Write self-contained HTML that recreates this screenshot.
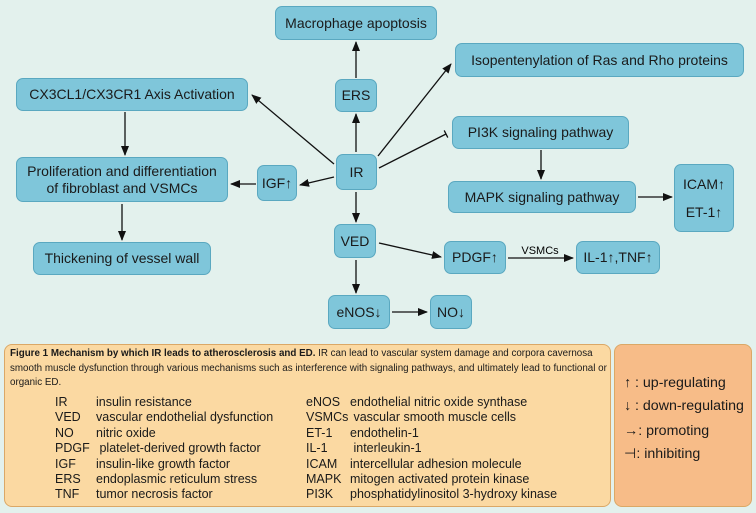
<!DOCTYPE html>
<html><head><meta charset="utf-8"><style>
*{margin:0;padding:0;box-sizing:border-box}
body{width:756px;height:513px;background:#e3f1ed;position:relative;font-family:"Liberation Sans",sans-serif;color:#1a1a1a;overflow:hidden}
.b{position:absolute;background:#7fc6da;border:1px solid #5aa8c0;border-radius:7px;display:flex;align-items:center;justify-content:center;text-align:center;font-size:14px;line-height:17px}
svg{position:absolute;left:0;top:0}
.cap{position:absolute;left:4px;top:344px;width:607px;height:163px;background:#fbd9a2;border:1px solid #dba866;border-radius:8px}
.leg{position:absolute;left:614px;top:344px;width:138px;height:163px;background:#f7bc88;border:1px solid #dba866;border-radius:8px}
.t{position:absolute;font-size:12.5px;white-space:nowrap}
.l{position:absolute;font-size:14.2px;white-space:nowrap;left:624px}
</style></head><body>
<div class="b" style="left:275px;top:6px;width:162px;height:34px">Macrophage apoptosis</div>
<div class="b" style="left:335px;top:79px;width:42px;height:33px">ERS</div>
<div class="b" style="left:455px;top:43px;width:289px;height:34px">Isopentenylation of Ras and Rho proteins</div>
<div class="b" style="left:16px;top:78px;width:232px;height:33px">CX3CL1/CX3CR1 Axis Activation</div>
<div class="b" style="left:452px;top:116px;width:177px;height:33px">PI3K signaling pathway</div>
<div class="b" style="left:336px;top:154px;width:41px;height:36px">IR</div>
<div class="b" style="left:16px;top:157px;width:212px;height:45px">Proliferation and differentiation<br>of fibroblast and VSMCs</div>
<div class="b" style="left:257px;top:165px;width:40px;height:36px">IGF↑</div>
<div class="b" style="left:448px;top:181px;width:188px;height:32px">MAPK signaling pathway</div>
<div class="b" style="left:674px;top:164px;width:60px;height:68px;line-height:28px">ICAM↑<br>ET-1↑</div>
<div class="b" style="left:334px;top:224px;width:42px;height:34px">VED</div>
<div class="b" style="left:33px;top:242px;width:178px;height:33px">Thickening of vessel wall</div>
<div class="b" style="left:444px;top:241px;width:62px;height:33px">PDGF↑</div>
<div class="b" style="left:576px;top:241px;width:84px;height:33px">IL-1↑,TNF↑</div>
<div class="b" style="left:328px;top:295px;width:62px;height:34px">eNOS↓</div>
<div class="b" style="left:430px;top:295px;width:42px;height:34px">NO↓</div>
<svg width="756" height="513">
<defs><marker id="a" markerWidth="10" markerHeight="8" refX="9" refY="4" orient="auto" markerUnits="userSpaceOnUse"><path d="M0,0L10,4L0,8z" fill="#111"/></marker></defs>
<g stroke="#111" stroke-width="1.3" fill="none" marker-end="url(#a)">
<line x1="356" y1="78" x2="356" y2="42"/>
<line x1="356" y1="152" x2="356" y2="114"/>
<line x1="334" y1="164" x2="252" y2="95"/>
<line x1="378" y1="156" x2="451" y2="64"/>
<line x1="125" y1="112" x2="125" y2="155"/>
<line x1="334" y1="177" x2="300" y2="185"/>
<line x1="256" y1="184" x2="231" y2="184"/>
<line x1="122" y1="204" x2="122" y2="240"/>
<line x1="356" y1="192" x2="356" y2="222"/>
<line x1="356" y1="260" x2="356" y2="293"/>
<line x1="379" y1="243" x2="441" y2="257"/>
<line x1="392" y1="312" x2="427" y2="312"/>
<line x1="508" y1="258" x2="573" y2="258"/>
<line x1="541" y1="150" x2="541" y2="179"/>
<line x1="638" y1="197" x2="672" y2="197"/>
</g>
<line x1="379" y1="168" x2="446" y2="134" stroke="#111" stroke-width="1.3"/>
<line x1="444.2" y1="130.4" x2="447.8" y2="137.6" stroke="#111" stroke-width="1.3"/>
<text x="540" y="254" font-size="11" text-anchor="middle" font-family="Liberation Sans">VSMCs</text>
</svg>
<div class="cap"></div>
<div class="leg"></div>
<div class="t" style="left:10px;top:347px;font-size:9.8px;line-height:14.5px;white-space:normal;width:598px"><b>Figure 1 Mechanism by which IR leads to atherosclerosis and ED.</b> IR can lead to vascular system damage and corpora cavernosa smooth muscle dysfunction through various mechanisms such as interference with signaling pathways, and ultimately lead to functional or organic ED.</div>
<div class="t" style="left:55px;top:395px;line-height:15.4px">IR<br>VED<br>NO<br>PDGF<br>IGF<br>ERS<br>TNF</div>
<div class="t" style="left:96px;top:395px;line-height:15.4px">insulin resistance<br>vascular endothelial dysfunction<br>nitric oxide<br>&nbsp;platelet-derived growth factor<br>insulin-like growth factor<br>endoplasmic reticulum stress<br>tumor necrosis factor</div>
<div class="t" style="left:306px;top:395px;line-height:15.4px">eNOS<br>VSMCs<br>ET-1<br>IL-1<br>ICAM<br>MAPK<br>PI3K</div>
<div class="t" style="left:350px;top:395px;line-height:15.4px">endothelial nitric oxide synthase<br>&nbsp;vascular smooth muscle cells<br>endothelin-1<br>&nbsp;interleukin-1<br>intercellular adhesion molecule<br>mitogen activated protein kinase<br>phosphatidylinositol 3-hydroxy kinase</div>
<div class="l" style="top:375px">↑ : up-regulating</div>
<div class="l" style="top:398px">↓ : down-regulating</div>
<div class="l" style="top:423px">→: promoting</div>
<div class="l" style="top:446px">⊣: inhibiting</div>
</body></html>
